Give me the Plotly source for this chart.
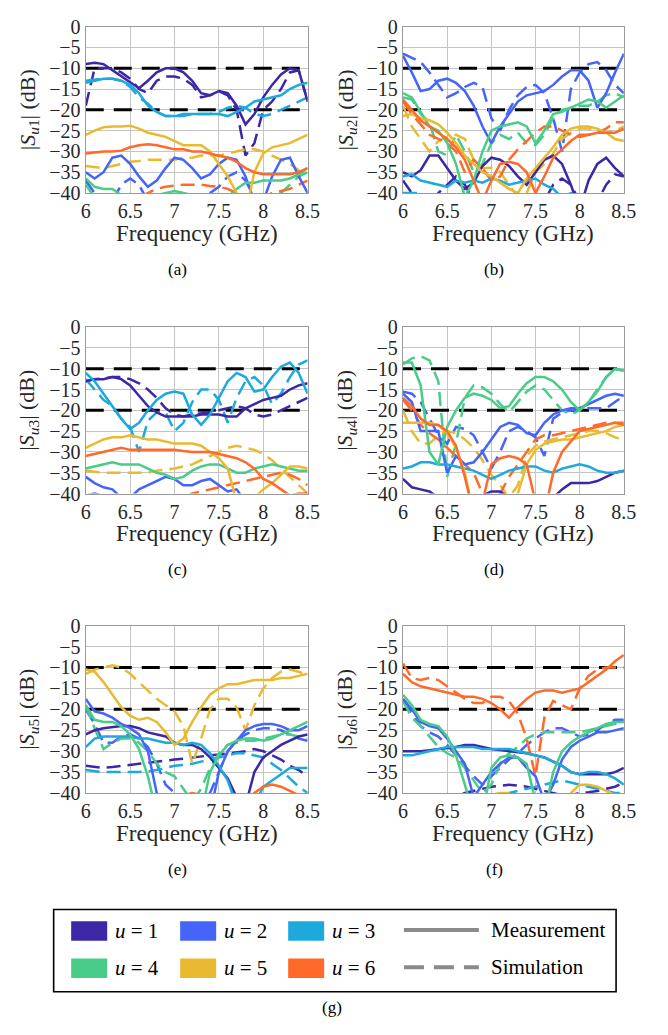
import plotly.graph_objects as go

W, H = 668, 1035

FREQ = [6.0, 6.1, 6.2, 6.3, 6.4, 6.5, 6.6, 6.7, 6.8, 6.9, 7.0, 7.1, 7.2, 7.3, 7.4,
        7.5, 7.6, 7.7, 7.8, 7.9, 8.0, 8.1, 8.2, 8.3, 8.4, 8.5]

X_TICKS = [6, 6.5, 7, 7.5, 8, 8.5]
X_TICK_TEXT = ["6", "6.5", "7", "7.5", "8", "8.5"]
Y_TICKS = [0, -5, -10, -15, -20, -25, -30, -35, -40]
Y_TICK_TEXT = ["0", "\u22125", "\u221210", "\u221215", "\u221220", "\u221225", "\u221230", "\u221235", "\u221240"]
REF_LEVELS = [-10, -20]

USERS = ["u = 1", "u = 2", "u = 3", "u = 4", "u = 5", "u = 6"]
COLORS = ["#3E27A6", "#4464FA", "#1DA9DE", "#48CC88", "#E9BA31", "#FF6A2B"]
PANEL_LABELS = ["(a)", "(b)", "(c)", "(d)", "(e)", "(f)"]
Y_TITLES = ["1", "2", "3", "4", "5", "6"]

# ---------------- panel (a): |S_u1| ----------------
a_m1 = [-9, -8.7, -9, -10.5, -12, -13.5, -14.8, -13, -11, -10, -10, -11, -13, -16, -16.5, -15.5, -16, -19, -23.5, -21, -17, -14, -11.5, -10, -10.5, -18]
a_s1 = [-19, -10, -10, -10, -11, -12.5, -15, -16, -13, -12, -12, -12.5, -14, -17, -16.5, -15.5, -16.5, -20, -31, -28, -20, -18, -15, -11, -10.5, -18]
a_m2 = [-35, -36.5, -35, -31.5, -31, -33, -36, -38.5, -37, -34, -31.5, -32, -34, -36.5, -35.5, -33, -31.5, -32, -36, -42, -42, -36, -32, -31.5, -36, -40]
a_s2 = [-37, -40, -43, -42, -38, -36.5, -38, -42, -44, -44, -43, -42, -41.5, -41, -40, -38.5, -36, -35, -37, -41, -42, -42.5, -42, -41.5, -41, -41]
a_m3 = [-13.5, -13, -12.5, -12.5, -13, -14, -16, -19, -20.5, -21.5, -21.5, -21.5, -21, -21, -21, -21, -21.5, -20.5, -19.5, -18, -17.5, -17, -16.5, -15, -14, -13.5]
a_s3 = [-13, -12.8, -12.5, -12.5, -13, -14.5, -17, -18.5, -20.5, -21.5, -21.5, -21, -21, -21, -21, -20.5, -19.5, -19, -19.5, -21, -21.5, -21, -20, -19, -18, -17]
a_m4 = [-36.5, -38.5, -39, -39, -40.5, -41, -41, -41, -40.5, -40, -39.5, -40, -40.5, -41, -41, -41, -41, -39, -37.5, -37.5, -37, -37, -37, -36.5, -35.5, -34]
a_s4 = [-38, -41, -43, -44, -45, -45, -45, -45, -45, -45, -45, -45, -45, -45, -45, -44, -43, -42, -42, -42, -42, -41, -40, -38, -36, -35]
a_m5 = [-26, -25, -24.2, -24, -24, -23.8, -24.5, -25.5, -26, -26.5, -27.5, -28.5, -28.5, -28.5, -30, -33, -36, -40, -45, -35, -30.5, -29, -28.5, -28, -27, -26]
a_s5 = [-33.5, -33.8, -34, -33.5, -33, -32.5, -32.3, -32, -32, -32, -32, -31.5, -31.5, -31, -31, -31, -30.5, -30, -29.5, -29.5, -30, -31, -32, -33, -34.5, -36]
a_m6 = [-30.5, -30.3, -30, -30, -29.8, -29, -28.5, -28.3, -28.5, -29, -29.5, -29.5, -30, -30, -30.5, -31, -31.5, -32.5, -34, -35, -35.5, -35.5, -35.5, -35.5, -35, -34]
a_s6 = [-48, -47, -46, -45, -44, -42, -41, -40, -39, -38.5, -38.3, -38, -38, -38, -38.3, -38.5, -39, -40, -42, -42, -41, -40, -39.5, -39, -38, -37]

# ---------------- panel (b): |S_u2| ----------------
b_m1 = [-35, -36, -34.5, -31, -31, -34, -37, -39, -37.5, -33.5, -31.5, -32, -33.5, -36, -38, -35, -32, -31, -33, -38, -44, -37, -33, -31.5, -34, -36]
b_s1 = [-37, -40, -42, -43, -40, -38, -36, -38, -42, -44, -44, -44, -44, -44, -44, -43, -42, -38, -36.5, -38, -42, -43, -42, -38, -35.5, -36]
b_m2 = [-7, -11, -15.5, -15, -13, -12.5, -13.5, -15.5, -19, -24, -28, -24, -21, -18, -16.5, -16, -15.5, -14, -12, -10.5, -10.5, -13, -19.5, -16, -11, -6.5]
b_s2 = [-6.5, -7.5, -8.5, -11, -14, -17, -16, -14.5, -13.5, -14.5, -22, -25, -20, -16.5, -14.5, -14, -16, -22, -30, -15, -11, -9, -8.5, -10.5, -14, -16]
b_m3 = [-36, -35.5, -37, -37.5, -38, -38.5, -37, -37.5, -37, -37.5, -36.5, -37, -38, -37.5, -37, -36.5, -38, -39, -41, -42, -42, -42, -42, -42, -42, -42]
b_s3 = [-40, -40, -40, -41, -42, -42, -42, -42, -42, -42, -42, -42, -42, -42, -42, -42, -42, -42, -41, -40, -41, -42, -42, -42, -42, -42]
b_m4 = [-16, -17, -20.5, -24, -25, -28, -33, -41, -37, -30, -25, -24, -23.5, -23, -24, -28, -25, -21, -20.5, -19.5, -18.5, -17.5, -18, -19.5, -18, -16.5]
b_s4 = [-17, -17.5, -21, -23, -30, -31, -26, -30, -35, -33, -28, -26, -27, -25.5, -28, -28.5, -26, -22, -20, -19.5, -19, -19, -18, -16.5, -16, -17]
b_m5 = [-21.5, -21, -22, -22.5, -23.5, -25.5, -28, -31, -33, -35, -36, -37.5, -39, -40, -36.5, -34, -31.5, -29, -26, -24.5, -24, -24, -24.5, -25.5, -27, -27.5]
b_s5 = [-19, -24, -27, -30, -27.5, -26.5, -26, -27, -32, -34, -34, -35, -38, -41, -40, -35, -33, -30.5, -27, -25.5, -24.5, -24.5, -25, -25.5, -25, -24]
b_m6 = [-17.5, -20, -22.5, -24, -25.5, -27, -29, -32, -37, -42, -37, -33, -32.5, -33, -35, -40, -36, -31.5, -29.5, -27.5, -26, -26, -25.5, -25.5, -25.5, -24.5]
b_s6 = [-18, -21, -23.5, -26, -27, -28, -30, -35, -32, -34, -37, -36, -32, -29.5, -27.5, -25.5, -24, -24, -25, -26, -26.5, -26, -25.5, -24.5, -23, -23]

# ---------------- panel (c): |S_u3| ----------------
c_m1 = [-13, -12.5, -12.5, -12, -12.5, -14, -16.5, -19, -20.5, -21.5, -21.5, -21.5, -21.5, -21, -21, -21, -21.5, -21.5, -19.5, -18.5, -17.5, -17, -16.5, -15, -14, -13.5]
c_s1 = [-13, -12.5, -12.3, -12, -12, -12.5, -13.5, -15, -17, -19.5, -21, -21.5, -21, -20.8, -20.5, -20, -19.5, -19, -19.5, -21, -21.5, -21, -20, -19, -18, -17]
c_m2 = [-36, -37.5, -38.5, -39, -41, -41, -39, -38, -37, -36, -36.5, -38, -38, -37, -36.5, -38, -39.5, -39, -42, -44, -44, -44, -44, -44, -44, -44]
c_s2 = [-40.5, -40, -40.5, -41.5, -43, -44, -44, -44, -44, -44, -44, -44, -44, -44, -44, -44, -44, -44, -43, -42, -41, -40.5, -41, -42, -43, -44]
c_m3 = [-11, -13, -16, -19, -22, -24.5, -23, -20, -17.5, -16, -15.5, -16, -21, -23.5, -21, -17, -13, -11, -12, -15.5, -15, -12, -9.5, -8.5, -11, -16]
c_s3 = [-12.5, -15, -17.5, -19, -22, -24, -30, -22.5, -20.5, -20.5, -25, -23, -18, -15, -15, -17.5, -23, -17, -13, -12, -14, -18.5, -16, -12, -9, -8]
c_m4 = [-34, -33.5, -33, -32.5, -33, -33, -33, -34, -35, -35.5, -36.5, -36, -34.5, -33.5, -33, -33, -34, -35, -35, -34, -33.5, -33, -33.5, -34, -34.5, -34.5]
c_s4 = [-44, -44, -44.5, -45, -45, -45, -45, -45, -45, -45, -45, -45, -45, -45, -45, -45, -45, -45, -45, -45, -44.5, -44, -44, -43.5, -43, -43]
c_m5 = [-29, -28, -27, -26.5, -26.5, -26, -26.5, -27, -27, -27.5, -28, -28, -28, -28.5, -30, -31.5, -34, -42, -45, -41, -39, -37.5, -35.5, -33.5, -33.5, -34]
c_s5 = [-34.5, -34.8, -35, -35, -35, -35, -35, -35, -34.5, -34.3, -34, -33.5, -33, -32, -31, -30, -29, -28.5, -29, -29.5, -30.5, -32, -34, -36, -38, -40]
c_m6 = [-31, -30.5, -30, -29.5, -29, -29.5, -29.5, -29.5, -29.5, -29.5, -29.5, -29.8, -30, -30, -30, -30.5, -31, -31.5, -32.5, -34, -36.5, -37.5, -39, -40.5, -40, -40]
c_s6 = [-48, -47, -46, -45, -44.5, -44, -43.5, -43, -42.5, -42, -41.5, -41, -40, -39.5, -39, -38.5, -38, -37.5, -37, -36.5, -36, -35.5, -35, -35.5, -36.5, -38]

# ---------------- panel (d): |S_u4| ----------------
d_m1 = [-36.5, -38.5, -39, -39.5, -41, -41, -41, -41, -41, -40.5, -39.5, -39.5, -41, -41, -41, -41, -41, -41, -39, -37.5, -37.5, -37.5, -37, -36, -35, -34.5]
d_s1 = [-44, -44, -44, -44, -44, -44, -44, -44, -44, -44, -44, -44, -44, -44, -44, -44, -44, -44, -44, -44, -44, -44, -44, -44, -44, -44]
d_m2 = [-16, -18, -25, -25, -25, -35, -31, -33, -32.5, -30, -27, -24, -23, -23.5, -25.5, -26, -23, -21, -20, -19.5, -19.5, -18.5, -17.5, -16.5, -16, -16.5]
d_s2 = [-15.5, -16, -18, -22, -26, -28, -24, -24.5, -26, -30, -34, -30, -25, -24, -25, -26.5, -31, -22, -20.5, -20, -20, -19.5, -19.5, -19.5, -18, -16.5]
d_m3 = [-34, -33.5, -32.5, -32.5, -33, -33, -33.5, -34, -34.5, -35.5, -36.5, -35.5, -34.5, -34, -33.5, -33.5, -34.5, -35, -34, -33.5, -33, -33.5, -34.5, -35, -35, -34.5]
d_s3 = [-45, -45, -45, -45, -45, -45, -45, -45, -45, -45, -45, -45, -45, -45, -45, -45, -45, -45, -45, -45, -45, -45, -45, -45, -45, -45]
d_m4 = [-8.5, -8.5, -14, -30, -33, -24, -20, -17, -16, -16.5, -17.5, -19.5, -19, -16, -13.5, -12, -12, -13, -15, -18, -20, -18, -15.5, -12, -10, -10.5]
d_s4 = [-9, -7.5, -7, -8, -13, -36, -28, -17, -14, -14.5, -16, -18.5, -20.5, -18, -15.5, -14, -15, -17.5, -20, -21, -20, -18, -15, -12, -10, -10.5]
d_m5 = [-23, -23, -23, -23, -23.5, -25.5, -29, -35, -45, -45, -45, -45, -45, -40, -33, -29.5, -28, -27.5, -27, -27, -26.5, -26, -25.5, -25, -24, -23.5]
d_s5 = [-20, -25, -28, -28, -26, -25, -25.5, -27, -29, -32, -35.5, -38, -41, -38, -31, -28.5, -27.5, -27, -26.5, -26, -25.5, -25, -25, -25.5, -26.5, -27]
d_m6 = [-17, -19, -22, -23.5, -23.5, -25, -28.5, -36, -45, -42, -33, -31.5, -31, -31.5, -33, -42, -45, -35, -30, -27.5, -25, -24.5, -24, -23.5, -23, -23.5]
d_s6 = [-17.5, -20, -23.5, -25.5, -27, -29, -31, -33, -35, -40, -42, -40, -36, -33, -30, -27, -26, -26, -25.5, -25, -24.5, -24, -23.5, -23, -23, -23]

# ---------------- panel (e): |S_u5| ----------------
e_m1 = [-26, -25, -24.5, -24.2, -24, -24, -24.5, -25.5, -26, -26.5, -28, -28.5, -28.5, -29.5, -31.5, -34, -36.5, -41, -43, -35, -31.5, -30, -28.5, -27.5, -26.5, -26]
e_s1 = [-33.5, -33.8, -34, -33.8, -33.5, -33.3, -33, -32.8, -32.5, -32.3, -32, -31.8, -31.5, -31.3, -31, -30.8, -30.5, -30.3, -30, -29.5, -30, -31, -32, -33.5, -34.5, -36]
e_m2 = [-17.5, -20.5, -21, -22, -23.5, -24.5, -26, -30, -40, -45, -45, -45, -45, -45, -45, -35, -30, -27.5, -25, -24, -23.5, -23.5, -24, -25, -25, -24]
e_s2 = [-20, -23.5, -28, -28, -26.5, -26, -27, -29, -33, -38, -40, -42, -44, -42, -40, -35, -30, -27.5, -26, -25, -24.5, -24.5, -25, -26, -27, -27.5]
e_m3 = [-29, -27, -26.5, -26.5, -26.5, -26.5, -27, -27, -27.5, -28, -28, -28.5, -28, -28.5, -30.5, -33.5, -37, -43, -45, -43, -38.5, -37, -35.5, -34, -34, -34]
e_s3 = [-34.5, -34.8, -35, -35, -35, -35, -35, -34.8, -34.5, -34, -33.5, -33.3, -33, -32.5, -32, -31.5, -31, -30.5, -30.5, -31, -31.5, -33, -34.5, -36.5, -38.5, -40]
e_m4 = [-19, -22.5, -23, -23, -24, -26, -29.5, -36, -45, -45, -45, -45, -45, -45, -35, -31, -28.5, -27.5, -27, -27, -27.5, -27, -26, -25, -24, -23]
e_s4 = [-19, -24.5, -29.5, -28, -27, -27, -28, -30, -33, -35, -36, -39, -42, -39, -34, -30.5, -28.5, -28, -27.5, -27.5, -27, -26.5, -26, -26, -26.5, -27]
e_m5 = [-10.5, -11, -13.5, -16.5, -19.5, -21.5, -22.5, -22, -23, -25.5, -28.5, -27, -23, -19.5, -16.5, -15, -14, -14, -13.5, -13, -13, -13, -12.5, -12.5, -12, -11.5]
e_s5 = [-11.5, -10.5, -10, -9.5, -10, -11.5, -13.5, -15.5, -17.5, -19, -20.5, -24, -33, -27, -20, -17.5, -17.5, -19.5, -25, -19, -15, -12.5, -11, -10.5, -11, -12]
e_m6 = [-46, -46, -46, -46, -46, -46, -46, -46, -45, -43, -41, -40.5, -40, -40.5, -41, -42, -43, -43, -42, -40, -38.5, -38, -38.5, -39.5, -40.5, -42]
e_s6 = [-46, -46, -46, -46, -46, -46, -46, -46, -46, -46, -46, -46, -46, -46, -46, -46, -46, -46, -46, -46, -46, -46, -46, -46, -46, -46]

# ---------------- panel (f): |S_u6| ----------------
f_m1 = [-30, -30, -30, -29.8, -29.5, -29.2, -29, -28.5, -28.5, -29, -29.5, -29.7, -30, -30.2, -30.5, -31, -31.5, -32.5, -33.5, -35, -35.5, -35.5, -35.5, -35.5, -35, -34]
f_s1 = [-45, -45, -44, -43, -42, -41.5, -41, -40, -39.5, -39, -38.5, -38.3, -38, -38.2, -38.5, -39, -39.5, -40, -40.5, -40.5, -40, -39.8, -39.5, -39, -38.5, -37.5]
f_m2 = [-17.5, -20, -23, -24, -24.5, -27, -30, -33, -41, -38, -35, -33, -31.5, -31.5, -34, -36, -42, -38, -32, -29, -27.5, -26.5, -25.5, -25.5, -25, -24.5]
f_s2 = [-18, -21, -24, -25.5, -26.5, -28.5, -31, -33.5, -36, -38, -36, -34, -32, -30.5, -28.5, -27, -25.5, -24.5, -24.5, -25.5, -26.5, -26, -25, -23.5, -22.5, -22.5]
f_m3 = [-31, -31, -30.5, -30, -29.5, -29, -29, -29, -29, -29.5, -29.5, -29.5, -29.5, -30, -30.5, -31, -31.5, -32.5, -33.5, -35, -35.5, -35, -35, -35.5, -36.5, -38]
f_s3 = [-45, -45, -45, -45, -45, -45, -45, -44, -43, -42, -41, -40.5, -40, -39.5, -39, -38.5, -38, -37.5, -37, -37.5, -38, -38.5, -39, -39.5, -40, -40]
f_m4 = [-16.5, -19, -22.5, -23.5, -24, -26.5, -31, -38, -45, -45, -34, -31.5, -31, -31.5, -33, -42, -45, -35, -30, -28, -26.5, -25.5, -24.5, -23.5, -23, -23]
f_s4 = [-18, -22, -24, -26.5, -29, -30.5, -31.5, -34, -37, -40, -38, -33, -30.5, -29, -27, -26, -25.5, -25.5, -25.5, -25.5, -25.5, -25, -24.5, -24, -23.5, -23]
f_m5 = [-46, -46, -46, -46, -46, -46, -46, -46, -46, -46, -46, -46, -46, -46, -46, -46, -46, -46, -46, -40, -38, -38, -38.5, -39.5, -40.5, -42]
f_s5 = [-46, -46, -46, -46, -46, -46, -46, -46, -46, -42, -40.5, -40, -40, -40.5, -42, -46, -46, -46, -46, -46, -46, -46, -46, -46, -46, -46]
f_m6 = [-11.5, -13.5, -14.5, -15, -15.5, -16, -16.5, -17, -17, -17.5, -18.5, -20, -22, -19.5, -17.5, -16, -15.5, -15.5, -16, -15.5, -15, -13.5, -12, -10.5, -8.5, -7]
f_s6 = [-9, -12.5, -13, -12.5, -13, -14.5, -16, -17.5, -18.5, -18.5, -17, -17, -18, -21, -27, -36, -22, -18, -19, -20, -15, -12, -10.5, -10, -10, -10]

PANELS = [
    ([a_m1, a_m2, a_m3, a_m4, a_m5, a_m6], [a_s1, a_s2, a_s3, a_s4, a_s5, a_s6]),
    ([b_m1, b_m2, b_m3, b_m4, b_m5, b_m6], [b_s1, b_s2, b_s3, b_s4, b_s5, b_s6]),
    ([c_m1, c_m2, c_m3, c_m4, c_m5, c_m6], [c_s1, c_s2, c_s3, c_s4, c_s5, c_s6]),
    ([d_m1, d_m2, d_m3, d_m4, d_m5, d_m6], [d_s1, d_s2, d_s3, d_s4, d_s5, d_s6]),
    ([e_m1, e_m2, e_m3, e_m4, e_m5, e_m6], [e_s1, e_s2, e_s3, e_s4, e_s5, e_s6]),
    ([f_m1, f_m2, f_m3, f_m4, f_m5, f_m6], [f_s1, f_s2, f_s3, f_s4, f_s5, f_s6]),
]

# ---------------- layout geometry (pixels) ----------------
COL_X = [(83, 311), (409, 636)]
ROW_Y = [(16, 186), (323, 493), (628, 799)]
FONT = "Liberation Serif"
TXT = "#262626"


def px(x):
    return x / W


def py(y):
    return 1 - y / H


fig = go.Figure()
annotations = []
shapes = []
layout_axes = {}

for i, (meas, sim) in enumerate(PANELS):
    r, c = divmod(i, 2)
    n = i + 1
    xa = "x" if n == 1 else f"x{n}"
    ya = "y" if n == 1 else f"y{n}"
    xkey = "xaxis" if n == 1 else f"xaxis{n}"
    ykey = "yaxis" if n == 1 else f"yaxis{n}"
    x0, x1 = COL_X[c]
    y0, y1 = ROW_Y[r]
    layout_axes[xkey] = dict(
        domain=[px(x0), px(x1)], range=[6, 8.5], anchor=ya,
        tickvals=X_TICKS, ticktext=X_TICK_TEXT, showgrid=True,
        gridcolor="#c4c4c4", gridwidth=1.3, showline=True, mirror=True,
        linecolor="#9a9a9a", linewidth=1.3, zeroline=False, ticks="",
        tickfont=dict(family=FONT, size=20, color=TXT), fixedrange=True,
    )
    layout_axes[ykey] = dict(
        domain=[py(y1), py(y0)], range=[-40, 0], anchor=xa,
        tickvals=Y_TICKS, ticktext=Y_TICK_TEXT, showgrid=True,
        gridcolor="#c4c4c4", gridwidth=1.3, showline=True, mirror=True,
        linecolor="#9a9a9a", linewidth=1.3, zeroline=False, ticks="",
        tickfont=dict(family=FONT, size=20, color=TXT), fixedrange=True,
    )
    for lvl in REF_LEVELS:
        fig.add_trace(go.Scatter(
            x=[X_TICKS[0], X_TICKS[-1]], y=[lvl, lvl], mode="lines",
            line=dict(color="black", width=3, dash="18px,10px"),
            xaxis=xa, yaxis=ya, showlegend=False, hoverinfo="skip"))
    for u in range(6):
        fig.add_trace(go.Scatter(
            x=FREQ, y=sim[u], mode="lines",
            line=dict(color=COLORS[u], width=2.5, dash="14px,7px"),
            xaxis=xa, yaxis=ya, showlegend=False, name=USERS[u] + " sim"))
    for u in range(6):
        fig.add_trace(go.Scatter(
            x=FREQ, y=meas[u], mode="lines",
            line=dict(color=COLORS[u], width=2.5),
            xaxis=xa, yaxis=ya, showlegend=False, name=USERS[u] + " meas"))

    # axis titles
    annotations.append(dict(
        x=px((x0 + x1) / 2), y=py(y1 + 41), xref="paper", yref="paper",
        text="Frequency (GHz)", showarrow=False,
        font=dict(family=FONT, size=23, color=TXT), xanchor="center", yanchor="middle"))
    annotations.append(dict(
        x=px(24 if c == 0 else 351), y=py((y0 + y1) / 2), xref="paper", yref="paper",
        text=f"|<i>S</i><sub><i>u</i>{Y_TITLES[i]}</sub>| (dB)", showarrow=False, textangle=-90,
        font=dict(family=FONT, size=22, color=TXT), xanchor="center", yanchor="middle"))
    # panel caption
    annotations.append(dict(
        x=px(177 if c == 0 else 503), y=py(y1 + 78), xref="paper", yref="paper",
        text=PANEL_LABELS[i], showarrow=False,
        font=dict(family=FONT, size=17, color="black"), xanchor="center", yanchor="middle"))

# ---------------- legend box (g) ----------------
shapes.append(dict(type="rect", xref="paper", yref="paper",
                   x0=px(50), x1=px(628), y0=py(1002), y1=py(918),
                   line=dict(color="black", width=1.6), fillcolor="rgba(0,0,0,0)"))
SW_LEFT = [68, 180, 291]
ROW_C = [940, 978]
for u in range(6):
    rr, cc = divmod(u, 3)
    xl = SW_LEFT[cc]
    yc = ROW_C[rr]
    shapes.append(dict(type="rect", xref="paper", yref="paper",
                       x0=px(xl), x1=px(xl + 37), y0=py(yc + 10), y1=py(yc - 10),
                       line=dict(width=0), fillcolor=COLORS[u]))
    annotations.append(dict(
        x=px(xl + 43), y=py(yc), xref="paper", yref="paper",
        text="<i>u</i> = " + USERS[u].split("= ")[1], showarrow=False,
        font=dict(family=FONT, size=21, color="black"), xanchor="left", yanchor="middle"))
for k, (lbl, dash) in enumerate([("Measurement", "solid"), ("Simulation", "20px,10px")]):
    yc = ROW_C[k] - 1
    shapes.append(dict(type="line", xref="paper", yref="paper",
                       x0=px(410), x1=px(487), y0=py(yc), y1=py(yc),
                       line=dict(color="#8a8a8a", width=4, dash=dash)))
    annotations.append(dict(
        x=px(497), y=py(yc), xref="paper", yref="paper", text=lbl, showarrow=False,
        font=dict(family=FONT, size=21, color="black"), xanchor="left", yanchor="middle"))
annotations.append(dict(
    x=px(336), y=py(1018), xref="paper", yref="paper", text="(g)", showarrow=False,
    font=dict(family=FONT, size=17, color="black"), xanchor="center", yanchor="middle"))

fig.update_layout(
    width=W, height=H, margin=dict(l=0, r=0, t=0, b=0),
    paper_bgcolor="white", plot_bgcolor="white", showlegend=False,
    font=dict(family=FONT, color=TXT),
    annotations=annotations, shapes=shapes, **layout_axes,
)

fig.write_html("out.html")
